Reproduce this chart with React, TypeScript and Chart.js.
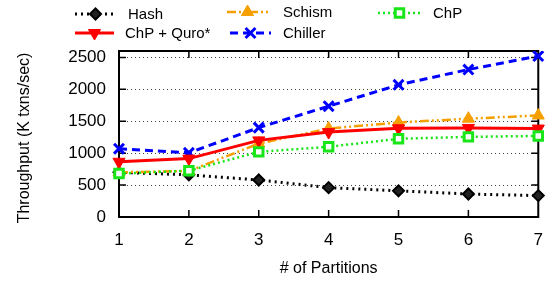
import React, { useEffect, useRef } from "react";
import { Chart, registerables } from "chart.js";
import { drawPoint } from "chart.js/helpers";

Chart.register(...registerables);

const partitions = ["1", "2", "3", "4", "5", "6", "7"];
const hash = [700, 660, 580, 460, 410, 360, 335];
const schism = [700, 720, 1150, 1385, 1480, 1540, 1590];
const chp = [680, 725, 1020, 1100, 1225, 1255, 1270];
const chpQuro = [865, 915, 1200, 1330, 1390, 1395, 1385];
const chiller = [1070, 1005, 1400, 1735, 2070, 2310, 2520];
const yTicks = [0, 500, 1000, 1500, 2000, 2500];
const yTitle = "Throughput (K txns/sec)";
const xTitle = "# of Partitions";

const FONT = "'Liberation Sans', Arial, Helvetica, sans-serif";

const series = [
  { label: "Hash", data: hash, color: "#000000", dash: [2, 4], width: 3, style: "rectRot", radius: 5.5, rotation: 0, fill: "#222222", bw: 2, order: 5 },
  { label: "Schism", data: schism, color: "#f5a000", dash: [9, 3, 2, 3, 2, 3], width: 2.5, style: "triangle", radius: 7, rotation: 0, fill: "#f5a000", bw: 1, order: 4 },
  { label: "ChP", data: chp, color: "#19e619", dash: [2, 3], width: 2.5, style: "rect", radius: 6, rotation: 0, fill: "#ffffff", bw: 3, order: 1 },
  { label: "ChP + Quro*", data: chpQuro, color: "#ff0000", dash: [], width: 3, style: "triangle", radius: 7, rotation: 180, fill: "#ff0000", bw: 1, order: 2 },
  { label: "Chiller", data: chiller, color: "#0000ff", dash: [8, 5], width: 3, style: "crossRot", radius: 7, rotation: 0, fill: "#0000ff", bw: 3, order: 3 },
];

const legendPos = [
  { x1: 75, x2: 116, tx: 128, y: 14 },
  { x1: 227, x2: 268, tx: 283, y: 12 },
  { x1: 378, x2: 421, tx: 433, y: 13 },
  { x1: 75, x2: 114, tx: 125, y: 33 },
  { x1: 230, x2: 271, tx: 283, y: 33 },
];

const framePlugin = {
  id: "frame",
  beforeDatasetsDraw(chart: any) {
    const { ctx, chartArea: a, scales } = chart;
    ctx.save();
    ctx.strokeStyle = "#000";
    ctx.lineWidth = 2;
    ctx.setLineDash([]);
    ctx.strokeRect(a.left, a.top, a.right - a.left, a.bottom - a.top);
    ctx.lineWidth = 1.5;
    const tl = 7;
    ctx.beginPath();
    for (let i = 1; i < partitions.length - 1; i++) {
      const x = scales.x.getPixelForValue(i);
      ctx.moveTo(x, a.bottom);
      ctx.lineTo(x, a.bottom - tl);
      ctx.moveTo(x, a.top);
      ctx.lineTo(x, a.top + tl);
    }
    for (const v of yTicks) {
      const y = scales.y.getPixelForValue(v);
      ctx.moveTo(a.right, y);
      ctx.lineTo(a.right - tl, y);
      ctx.moveTo(a.left, y);
      ctx.lineTo(a.left + tl, y);
    }
    ctx.stroke();
    ctx.restore();
  },
  afterDraw(chart: any) {
    const { ctx } = chart;
    ctx.save();
    series.forEach((s, i) => {
      const p = legendPos[i];
      ctx.strokeStyle = s.color;
      ctx.lineWidth = s.width;
      ctx.setLineDash(s.dash);
      ctx.beginPath();
      ctx.moveTo(p.x1, p.y);
      ctx.lineTo(p.x2, p.y);
      ctx.stroke();
      ctx.setLineDash([]);
      ctx.fillStyle = s.fill;
      ctx.strokeStyle = s.color;
      ctx.lineWidth = s.bw;
      drawPoint(ctx, { pointStyle: s.style, radius: s.radius, rotation: s.rotation, borderWidth: s.bw } as any, (p.x1 + p.x2) / 2, p.y);
      ctx.fillStyle = "#000";
      ctx.font = `15px ${FONT}`;
      ctx.textBaseline = "middle";
      ctx.textAlign = "left";
      ctx.fillText(s.label, p.tx, p.y + 1);
    });
    ctx.translate(25, 138);
    ctx.rotate(-Math.PI / 2);
    ctx.fillStyle = "#000";
    ctx.font = `16px ${FONT}`;
    ctx.textAlign = "center";
    ctx.textBaseline = "middle";
    ctx.fillText(yTitle, 0, 0);
    ctx.restore();
  },
};

export default function App() {
  const ref = useRef<HTMLCanvasElement | null>(null);
  useEffect(() => {
    if (!ref.current) return;
    const chart = new Chart(ref.current, {
      type: "line",
      data: {
        labels: partitions,
        datasets: series.map((s) => ({
          label: s.label,
          data: s.data,
          borderColor: s.color,
          borderWidth: s.width,
          borderDash: s.dash,
          backgroundColor: s.fill,
          pointStyle: s.style as any,
          pointRadius: s.radius,
          pointRotation: s.rotation,
          pointBorderWidth: s.bw,
          pointBackgroundColor: s.fill,
          pointBorderColor: s.color,
          tension: 0,
          fill: false,
          order: s.order,
        })),
      },
      options: {
        animation: false,
        responsive: false,
        maintainAspectRatio: false,
        layout: { padding: { top: 51, right: 14, left: 0, bottom: 0 } },
        plugins: { legend: { display: false }, tooltip: { enabled: false } },
        scales: {
          x: {
            type: "category",
            offset: false,
            grid: { display: false, drawTicks: false },
            border: { display: false },
            ticks: { color: "#000", font: { family: FONT, size: 17 }, padding: 13, maxRotation: 0 },
            title: { display: true, text: xTitle, color: "#000", font: { family: FONT, size: 16 }, padding: { top: 0, bottom: 5 } },
            afterFit: (s: any) => { s.height = 66; },
          },
          y: {
            min: 0,
            max: 2600,
            grid: { color: "#444", lineWidth: 1, drawTicks: false },
            border: { display: false, dash: [1, 3] },
            ticks: { stepSize: 500, color: "#000", font: { family: FONT, size: 17 }, padding: 13, callback: (v: any) => String(v) },
            afterBuildTicks: (s: any) => { s.ticks = yTicks.map((v) => ({ value: v })); },
            title: { display: false },
            afterFit: (s: any) => { s.width = 119; },
          },
        },
      },
      plugins: [framePlugin],
    });
    return () => chart.destroy();
  }, []);
  return (
    <div style={{ position: "fixed", left: 0, top: 0, width: 556, height: 283, background: "#fff" }}>
      <canvas ref={ref} width={556} height={283} style={{ width: 556, height: 283, display: "block" }} />
    </div>
  );
}
